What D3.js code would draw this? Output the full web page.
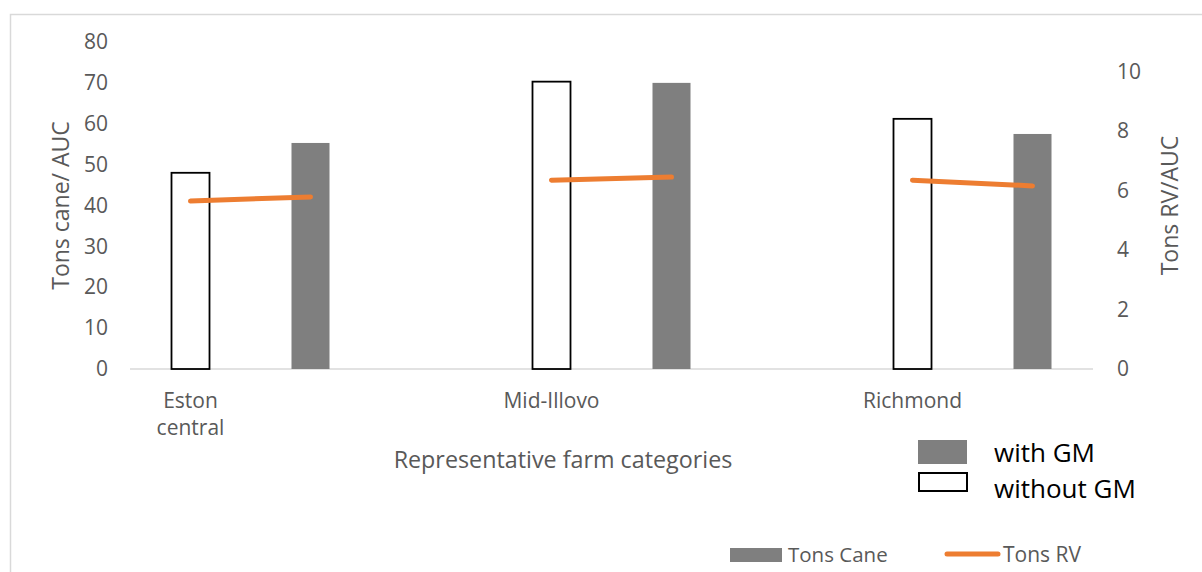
<!DOCTYPE html>
<html>
<head>
<meta charset="utf-8">
<script src="https://cdn.jsdelivr.net/npm/d3@7"></script>
<style>
  html, body { margin: 0; padding: 0; background: #fff; }
  svg { display: block; }
  text { font-family: "Open Sans", sans-serif; }
</style>
</head>
<body>
<svg id="chart" width="1202" height="572"></svg>
<script>
// Farm categories and values
const categories = ["Eston central", "Mid-Illovo", "Richmond"];
const categoryLines = [["Eston", "central"], ["Mid-Illovo"], ["Richmond"]];
const groups = ["without GM", "with GM"];

// Tons cane per AUC (left axis)
const caneWithoutGM = [48.0, 70.3, 61.2];
const caneWithGM = [55.3, 70.0, 57.5];

// Tons RV per AUC (right axis)
const rvWithoutGM = [5.65, 6.35, 6.35];
const rvWithGM = [5.79, 6.46, 6.16];

const leftTicks = [0, 10, 20, 30, 40, 50, 60, 70, 80];
const rightTicks = [0, 2, 4, 6, 8, 10];

const svg = d3.select("#chart");

const plot = { left: 130, right: 1093, top: 42, bottom: 369 };

// Category slots are 361px apart; the two bars sit 120px apart inside a slot
const x = d3.scaleBand().domain(categories).range([plot.left, plot.left + 3 * 361]);
const xInner = d3.scaleBand().domain(groups).range([41.5, 199.5]).paddingInner(0.6833);
const yLeft = d3.scaleLinear().domain([0, 80]).range([plot.bottom, plot.top]);
const yRight = d3.scaleLinear().domain([0, 11]).range([plot.bottom, plot.top]);

// Chart frame
svg.append("rect")
  .attr("x", 10.5).attr("y", 14.5)
  .attr("width", 1300).attr("height", 700)
  .attr("fill", "none").attr("stroke", "#d9d9d9").attr("stroke-width", 1.5);

// Left axis
const gLeft = svg.append("g")
  .attr("transform", `translate(${plot.left},0)`)
  .call(d3.axisLeft(yLeft).tickValues(leftTicks).tickSize(0).tickPadding(22));
gLeft.select(".domain").remove();
gLeft.selectAll("text").attr("fill", "#595959").style("font-size", "21px")
  .attr("font-family", null);

// Right axis
const gRight = svg.append("g")
  .attr("transform", `translate(${plot.right},0)`)
  .call(d3.axisRight(yRight).tickValues(rightTicks).tickSize(0).tickPadding(24));
gRight.select(".domain").remove();
gRight.selectAll("text").attr("fill", "#595959").style("font-size", "21px")
  .attr("font-family", null);

// Category axis baseline
svg.append("line")
  .attr("x1", plot.left).attr("x2", plot.right)
  .attr("y1", yLeft(0)).attr("y2", yLeft(0))
  .attr("stroke", "#d9d9d9").attr("stroke-width", 1.5);

// Bars
const barData = [];
categories.forEach((c, i) => {
  barData.push({ cat: c, group: "without GM", value: caneWithoutGM[i] });
  barData.push({ cat: c, group: "with GM", value: caneWithGM[i] });
});

svg.append("g").selectAll("rect")
  .data(barData)
  .join("rect")
  .attr("x", d => x(d.cat) + xInner(d.group))
  .attr("width", xInner.bandwidth())
  .attr("y", d => yLeft(d.value))
  .attr("height", d => yLeft(0) - yLeft(d.value))
  .attr("fill", d => d.group === "with GM" ? "#7f7f7f" : "#ffffff")
  .attr("stroke", d => d.group === "with GM" ? "none" : "#000")
  .attr("stroke-width", 1.8);

// Tons RV segments
const line = d3.line().x(d => d[0]).y(d => d[1]);
categories.forEach((c, i) => {
  const pts = [
    [x(c) + xInner("without GM") + xInner.bandwidth() / 2, yRight(rvWithoutGM[i])],
    [x(c) + xInner("with GM") + xInner.bandwidth() / 2, yRight(rvWithGM[i])]
  ];
  svg.append("path")
    .attr("d", line(pts))
    .attr("fill", "none")
    .attr("stroke", "#ed7d31")
    .attr("stroke-width", 5)
    .attr("stroke-linecap", "round");
});

// Category labels, under the "without GM" bar
categories.forEach((c, i) => {
  const cx = x(c) + xInner("without GM") + xInner.bandwidth() / 2;
  const t = svg.append("text")
    .attr("x", cx).attr("y", 408)
    .attr("text-anchor", "middle")
    .attr("fill", "#595959")
    .style("font-size", "21px");
  categoryLines[i].forEach((ln, j) => {
    t.append("tspan").attr("x", cx).attr("dy", j === 0 ? 0 : 27).text(ln);
  });
});

// Axis titles
svg.append("text")
  .attr("transform", `translate(69,${(plot.top + plot.bottom) / 2}) rotate(-90)`)
  .attr("text-anchor", "middle")
  .attr("fill", "#595959")
  .style("font-size", "23px")
  .text("Tons cane/ AUC");

svg.append("text")
  .attr("transform", `translate(1178,${(plot.top + plot.bottom) / 2}) rotate(-90)`)
  .attr("text-anchor", "middle")
  .attr("fill", "#595959")
  .style("font-size", "23px")
  .text("Tons RV/AUC");

svg.append("text")
  .attr("x", 563).attr("y", 468)
  .attr("text-anchor", "middle")
  .attr("fill", "#595959")
  .style("font-size", "23.3px")
  .text("Representative farm categories");

// GM legend
svg.append("rect").attr("x", 918).attr("y", 440).attr("width", 49).attr("height", 24)
  .attr("fill", "#7f7f7f");
svg.append("rect").attr("x", 919).attr("y", 473).attr("width", 48).attr("height", 18)
  .attr("fill", "#fff").attr("stroke", "#000").attr("stroke-width", 2);
svg.append("text").attr("x", 994).attr("y", 462).attr("fill", "#000")
  .style("font-size", "26px").text("with GM");
svg.append("text").attr("x", 994).attr("y", 498).attr("fill", "#000")
  .style("font-size", "26px").text("without GM");

// Series legend
svg.append("rect").attr("x", 730).attr("y", 548).attr("width", 52).attr("height", 14)
  .attr("fill", "#7f7f7f");
svg.append("text").attr("x", 788).attr("y", 562).attr("fill", "#595959")
  .style("font-size", "20.5px").text("Tons Cane");
svg.append("line").attr("x1", 947).attr("x2", 998).attr("y1", 554).attr("y2", 554)
  .attr("stroke", "#ed7d31").attr("stroke-width", 5).attr("stroke-linecap", "round");
svg.append("text").attr("x", 1003).attr("y", 562).attr("fill", "#595959")
  .style("font-size", "21px").text("Tons RV");
</script>
</body>
</html>
